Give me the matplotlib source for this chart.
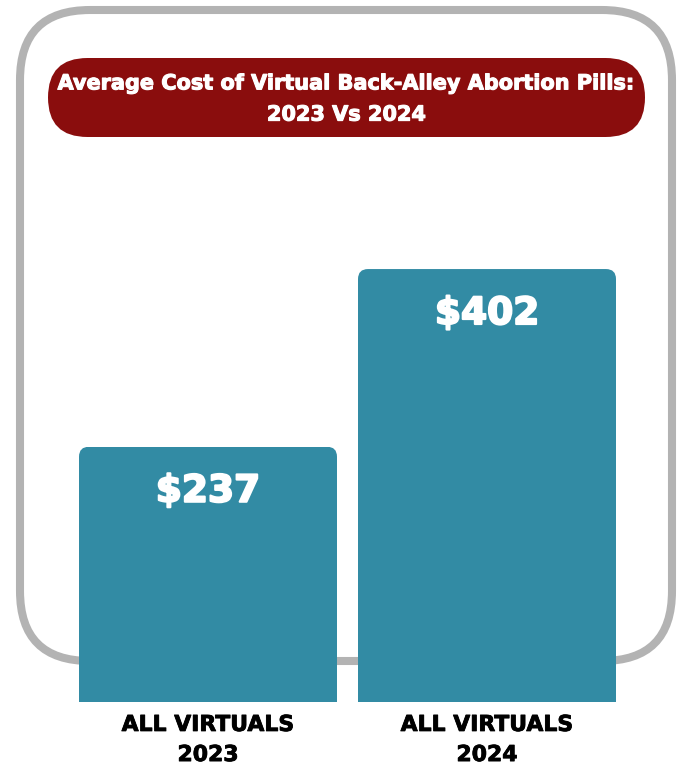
import matplotlib
matplotlib.use("Agg")
import matplotlib.pyplot as plt
import matplotlib.patheffects as pe
from matplotlib.patches import FancyBboxPatch

# data
categories = ["ALL VIRTUALS\n2023", "ALL VIRTUALS\n2024"]
costs = [237, 402]
value_labels = ["$237", "$402"]
title = "Average Cost of Virtual Back-Alley Abortion Pills:\n2023 Vs 2024"

bar_color = "#328ba4"
pill_color = "#8a0d0d"
frame_color = "#b3b3b3"
font = ["DejaVu Sans"]

W, H = 677, 768
fig = plt.figure(figsize=(W / 100, H / 100), dpi=100)

# background layer in pixel coords (y down)
bg = fig.add_axes([0, 0, 1, 1])
bg.set_xlim(0, W)
bg.set_ylim(H, 0)
bg.axis("off")

frame = FancyBboxPatch((20, 10), 652, 651, boxstyle="round,pad=0,rounding_size=70",
                       fc="white", ec=frame_color, lw=5.8)
bg.add_patch(frame)
pill = FancyBboxPatch((48, 58), 597, 79, boxstyle="round,pad=0,rounding_size=39.5",
                      fc=pill_color, ec="none")
bg.add_patch(pill)
bg.text(346.5, 99, title, ha="center", va="center", color="white",
        fontsize=15, fontweight="bold", family=font, linespacing=1.7,
        path_effects=[pe.withStroke(linewidth=0.8, foreground="white")])

# bar axes: y=0 at pixel 702, 1.077 px per dollar
w = 0.9247
ymax = 450
px_per = 1.077
bottom_px = 702
top_px = bottom_px - ymax * px_per
ax = fig.add_axes([79 / W, (H - bottom_px) / H, 537 / W, (bottom_px - top_px) / H])
ax.patch.set_alpha(0)
ax.set_xlim(-w / 2, 1 + w / 2)
ax.set_ylim(0, ymax)
ax.axis("off")

bars = ax.bar(range(len(costs)), costs, width=w, color=bar_color, zorder=2)

# round top corners by clipping each bar with a rounded box
xpx = 537 / (1 + w)
aspect = xpx / px_per
r = 10 / xpx
for b in bars:
    clip = FancyBboxPatch((b.get_x(), -100), b.get_width(), b.get_height() + 100,
                          boxstyle=f"round,pad=0,rounding_size={r}",
                          mutation_aspect=aspect, transform=ax.transData,
                          fc="none", ec="none")
    b.set_clip_path(clip)

for i, (v, lab) in enumerate(zip(costs, value_labels)):
    ax.text(i, v - 45 / px_per, lab, ha="center", va="center", color="white",
            fontsize=27, fontweight="bold", family=font, zorder=3,
            path_effects=[pe.withStroke(linewidth=1.5, foreground="white")])

for i, cat in enumerate(categories):
    ax.text(i, -38 / px_per, cat, ha="center", va="center", color="black",
            fontsize=15.8, fontweight="bold", family=font, linespacing=1.63,
            clip_on=False,
            path_effects=[pe.withStroke(linewidth=0.6, foreground="black")])

fig.savefig("out.png", dpi=100)
